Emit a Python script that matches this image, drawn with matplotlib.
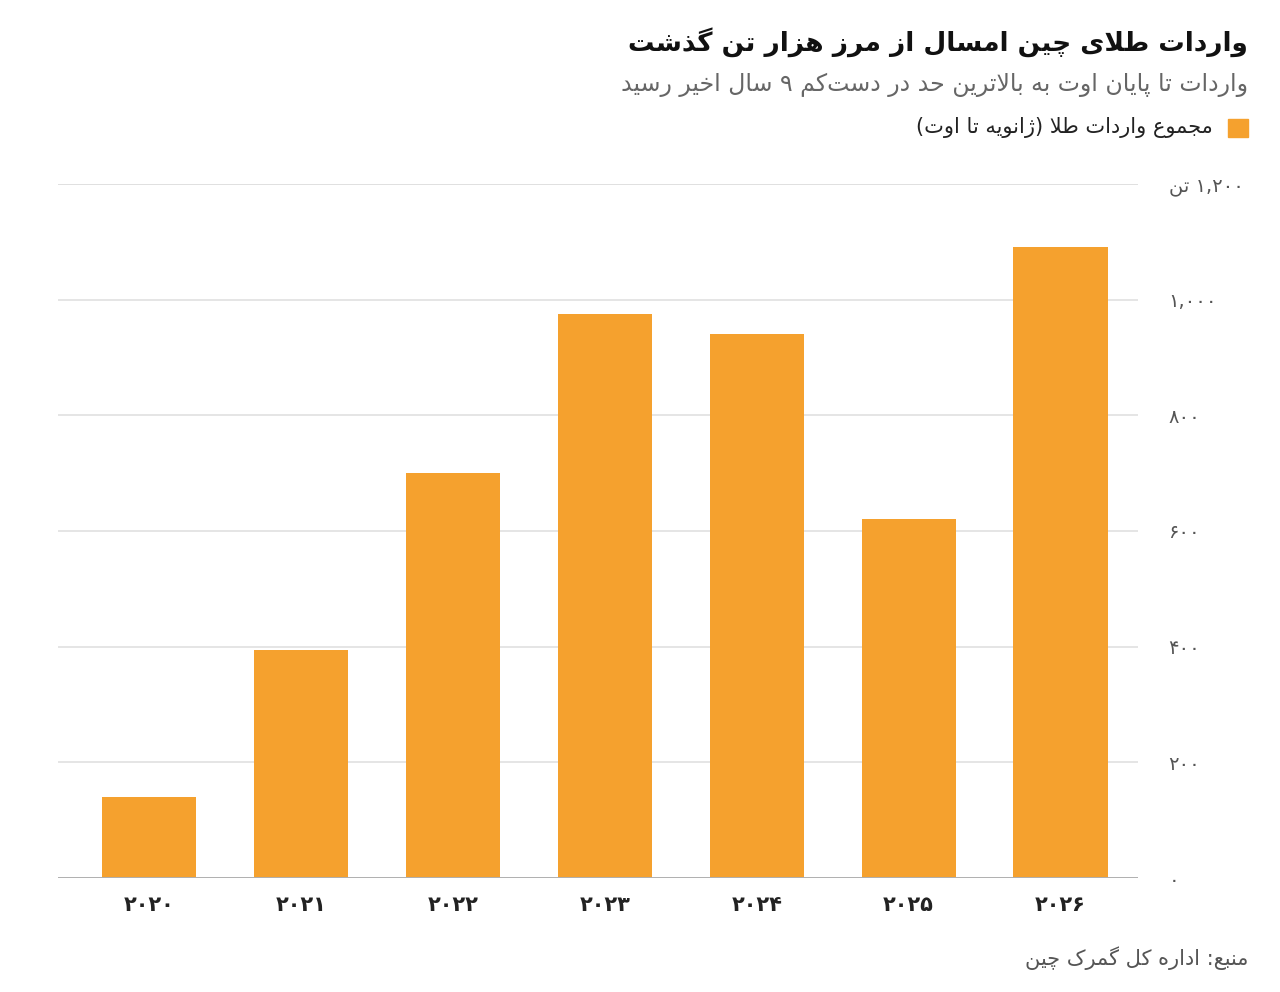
import matplotlib
matplotlib.use('Agg')
import matplotlib.pyplot as plt

# data
years = ['۲۰۲۰', '۲۰۲۱', '۲۰۲۲', '۲۰۲۳', '۲۰۲۴', '۲۰۲۵', '۲۰۲۶']
imports_t = [140, 394, 700, 975, 941, 621, 1091]
y_ticks = [0, 200, 400, 600, 800, 1000, 1200]
y_tick_labels = ['۰', '۲۰۰', '۴۰۰', '۶۰۰', '۸۰۰', '۱,۰۰۰', '۱,۲۰۰ تن']

title = 'واردات طلای چین امسال از مرز هزار تن گذشت'
subtitle = 'واردات تا پایان اوت به بالاترین حد در دست\u200cکم ۹ سال اخیر رسید'
legend_label = 'مجموع واردات طلا (ژانویه تا اوت)'
source = 'منبع: اداره کل گمرک چین'

# small persian shaper (matplotlib does no arabic shaping / bidi)
FORMS = {
    'ا': (0xFE8D, 0xFE8E, None, None), 'آ': (0xFE81, 0xFE82, None, None),
    'ب': (0xFE8F, 0xFE90, 0xFE91, 0xFE92), 'پ': (0xFB56, 0xFB57, 0xFB58, 0xFB59),
    'ت': (0xFE95, 0xFE96, 0xFE97, 0xFE98), 'ث': (0xFE99, 0xFE9A, 0xFE9B, 0xFE9C),
    'ج': (0xFE9D, 0xFE9E, 0xFE9F, 0xFEA0), 'چ': (0xFB7A, 0xFB7B, 0xFB7C, 0xFB7D),
    'ح': (0xFEA1, 0xFEA2, 0xFEA3, 0xFEA4), 'خ': (0xFEA5, 0xFEA6, 0xFEA7, 0xFEA8),
    'د': (0xFEA9, 0xFEAA, None, None), 'ذ': (0xFEAB, 0xFEAC, None, None),
    'ر': (0xFEAD, 0xFEAE, None, None), 'ز': (0xFEAF, 0xFEB0, None, None),
    'ژ': (0xFB8A, 0xFB8B, None, None),
    'س': (0xFEB1, 0xFEB2, 0xFEB3, 0xFEB4), 'ش': (0xFEB5, 0xFEB6, 0xFEB7, 0xFEB8),
    'ص': (0xFEB9, 0xFEBA, 0xFEBB, 0xFEBC), 'ض': (0xFEBD, 0xFEBE, 0xFEBF, 0xFEC0),
    'ط': (0xFEC1, 0xFEC2, 0xFEC3, 0xFEC4), 'ظ': (0xFEC5, 0xFEC6, 0xFEC7, 0xFEC8),
    'ع': (0xFEC9, 0xFECA, 0xFECB, 0xFECC), 'غ': (0xFECD, 0xFECE, 0xFECF, 0xFED0),
    'ف': (0xFED1, 0xFED2, 0xFED3, 0xFED4), 'ق': (0xFED5, 0xFED6, 0xFED7, 0xFED8),
    'ک': (0xFB8E, 0xFB8F, 0xFB90, 0xFB91), 'گ': (0xFB92, 0xFB93, 0xFB94, 0xFB95),
    'ل': (0xFEDD, 0xFEDE, 0xFEDF, 0xFEE0), 'م': (0xFEE1, 0xFEE2, 0xFEE3, 0xFEE4),
    'ن': (0xFEE5, 0xFEE6, 0xFEE7, 0xFEE8), 'و': (0xFEED, 0xFEEE, None, None),
    'ه': (0xFEE9, 0xFEEA, 0xFEEB, 0xFEEC), 'ی': (0xFBFC, 0xFBFD, 0xFBFE, 0xFBFF),
}
LAM_ALEF = {'ا': (0xFEFB, 0xFEFC), 'آ': (0xFEF5, 0xFEF6)}
LTR = set('0123456789۰۱۲۳۴۵۶۷۸۹,.')
MIRROR = {'(': ')', ')': '('}


def fa(text):
    chars = list(text)
    out = []
    i = 0
    while i < len(chars):
        c = chars[i]
        if c not in FORMS:
            if c != '\u200c':
                out.append(c)
            i += 1
            continue
        prev = chars[i - 1] if i > 0 else ''
        joins_prev = prev in FORMS and FORMS[prev][2] is not None
        if c == 'ل' and i + 1 < len(chars) and chars[i + 1] in LAM_ALEF:
            iso, fin = LAM_ALEF[chars[i + 1]]
            out.append(chr(fin if joins_prev else iso))
            i += 2
            continue
        nxt = chars[i + 1] if i + 1 < len(chars) else ''
        iso, fin, ini, med = FORMS[c]
        joins_next = nxt in FORMS and ini is not None
        if joins_prev and joins_next:
            g = med
        elif joins_prev:
            g = fin
        elif joins_next:
            g = ini
        else:
            g = iso
        out.append(chr(g))
        i += 1
    out = [MIRROR.get(ch, ch) for ch in out[::-1]]
    # put number runs back in left-to-right order
    res = []
    j = 0
    while j < len(out):
        if out[j] in LTR:
            k = j
            while k < len(out) and out[k] in LTR:
                k += 1
            res.extend(out[j:k][::-1])
            j = k
        else:
            res.append(out[j])
            j += 1
    return ''.join(res)


plt.rcParams['font.family'] = ['DejaVu Sans']

fig = plt.figure(figsize=(12.8, 9.92), dpi=100)
ax = fig.add_axes([58 / 1280, 1 - 878 / 992, (1138 - 58) / 1280, (878 - 184) / 992])

x = list(range(len(years)))
ax.bar(x, imports_t, width=0.62, color='#F5A12E', zorder=3)
ax.set_xlim(-0.6, 6.51)
ax.set_ylim(0, 1200)

ax.grid(True, axis='y', color='#e0e0e0', linewidth=1.2, zorder=0)
ax.axhline(1200, color='#e0e0e0', linewidth=1.4, zorder=0)
ax.axhline(0, color='#b0b0b0', linewidth=1.4, zorder=4)
for s in ax.spines.values():
    s.set_visible(False)

ax.yaxis.tick_right()
ax.set_yticks(y_ticks)
ax.set_yticklabels([fa(t) for t in y_tick_labels], color='#555555', fontsize=14)
for lab in ax.get_yticklabels():
    lab.set_horizontalalignment('left')
ax.tick_params(axis='y', length=0, pad=22)

ax.set_xticks(x)
ax.set_xticklabels([fa(t) for t in years], fontsize=15, fontweight='bold', color='#222222')
ax.tick_params(axis='x', length=0, pad=12)

fig.text(1248 / 1280, 1 - 42 / 992, fa(title), ha='right', va='center',
         fontsize=19, fontweight='bold', color='#111111')
fig.text(1248 / 1280, 1 - 85 / 992, fa(subtitle), ha='right', va='center',
         fontsize=17, color='#666666')
fig.patches.append(plt.Rectangle((1228 / 1280, 1 - 137 / 992), 20 / 1280, 18 / 992,
                                 transform=fig.transFigure, color='#F5A12E', figure=fig))
fig.text(1213 / 1280, 1 - 128 / 992, fa(legend_label), ha='right', va='center',
         fontsize=15, color='#222222')
fig.text(1248 / 1280, 1 - 958 / 992, fa(source), ha='right', va='center',
         fontsize=15, color='#555555')

fig.savefig('out.png', dpi=100)
